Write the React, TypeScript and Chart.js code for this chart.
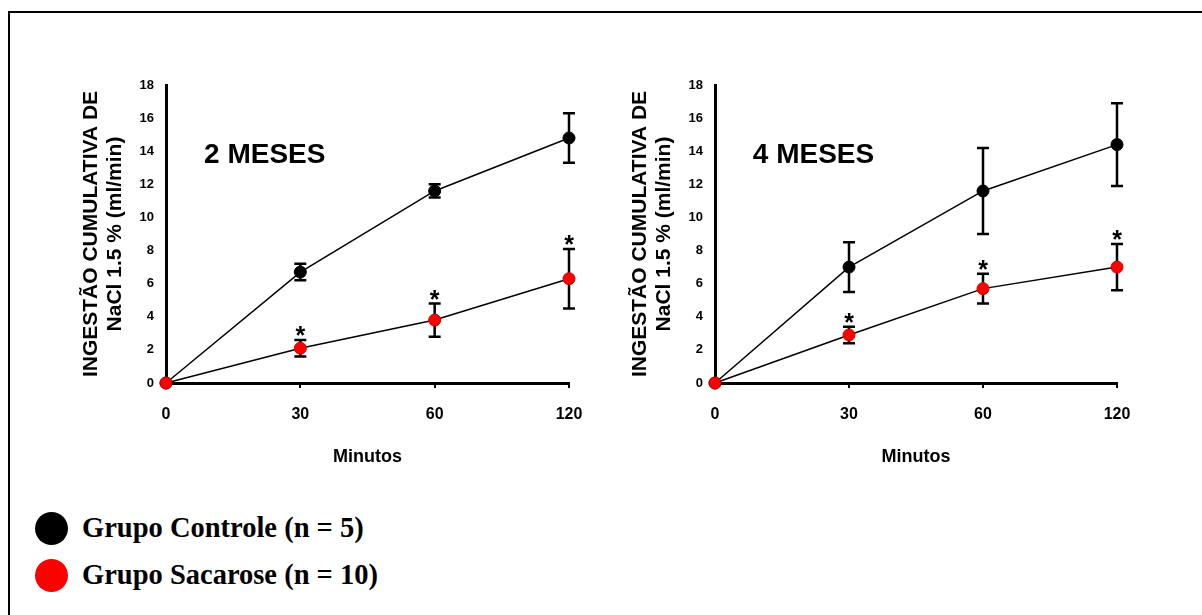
import React, { useEffect, useRef } from 'react';
import { Chart, registerables } from 'chart.js';

Chart.register(...registerables);

// ---- Data ----
const minutos = ['0', '30', '60', '120'];
const yMin = 0;
const yMax = 18;
const yStep = 2;

const controle2 = [0, 6.7, 11.6, 14.8];
const controle2Err = [0, 0.5, 0.4, 1.5];
const sacarose2 = [0, 2.1, 3.8, 6.3];
const sacarose2Err = [0, 0.5, 1.0, 1.8];
const sig2 = [false, true, true, true];

const controle4 = [0, 7.0, 11.6, 14.4];
const controle4Err = [0, 1.5, 2.6, 2.5];
const sacarose4 = [0, 2.9, 5.7, 7.0];
const sacarose4Err = [0, 0.5, 0.9, 1.4];
const sig4 = [false, true, true, true];

const panelTitles = ['2 MESES', '4 MESES'];
const seriesNames = ['Grupo Controle (n = 5)', 'Grupo Sacarose (n = 10)'];
const seriesColors = ['#000000', '#ff0000'];
const yTitle = ['INGESTÃO CUMULATIVA DE', 'NaCl 1.5 % (ml/min)'];
const xTitle = 'Minutos';

const SANS = "'Liberation Sans', Arial, sans-serif";
const SERIF = "'Liberation Serif', 'Times New Roman', serif";

type PanelProps = {
  left: number;
  top: number;
  padRight: number;
  title: string;
  ctrl: number[];
  ctrlErr: number[];
  sac: number[];
  sacErr: number[];
  sig: boolean[];
};

function Panel(props: PanelProps) {
  const ref = useRef<HTMLCanvasElement | null>(null);
  const W = 540;
  const H = 420;

  useEffect(() => {
    if (!ref.current) return;
    const { title, ctrl, ctrlErr, sac, sacErr, sig } = props;

    const errorBars = {
      id: 'errorBars',
      beforeDatasetsDraw(chart: any) {
        const { ctx, scales } = chart;
        const x = scales.x;
        const y = scales.y;
        chart.data.datasets.forEach((ds: any) => {
          const errs: number[] = ds.errors;
          if (!errs) return;
          ctx.save();
          ctx.strokeStyle = '#000';
          ctx.lineWidth = 2.5;
          ds.data.forEach((v: number, i: number) => {
            const e = errs[i];
            if (!e) return;
            const px = x.getPixelForValue(i);
            const t = y.getPixelForValue(v + e);
            const b = y.getPixelForValue(v - e);
            ctx.beginPath();
            ctx.moveTo(px, t);
            ctx.lineTo(px, b);
            ctx.moveTo(px - 6, t);
            ctx.lineTo(px + 6, t);
            ctx.moveTo(px - 6, b);
            ctx.lineTo(px + 6, b);
            ctx.stroke();
          });
          ctx.restore();
        });
      },
      afterDatasetsDraw(chart: any) {
        const { ctx, scales } = chart;
        const x = scales.x;
        const y = scales.y;
        chart.data.datasets.forEach((ds: any) => {
          const s: boolean[] = ds.sig;
          if (!s) return;
          ctx.save();
          ctx.fillStyle = '#000';
          ctx.font = `bold 25px ${SANS}`;
          ctx.textAlign = 'center';
          ctx.textBaseline = 'alphabetic';
          ds.data.forEach((v: number, i: number) => {
            if (!s[i]) return;
            const px = x.getPixelForValue(i);
            const t = y.getPixelForValue(v + (ds.errors ? ds.errors[i] : 0));
            ctx.fillText('*', px, t - 11 + 15);
          });
          ctx.restore();
        });
      },
      afterDraw(chart: any) {
        const { ctx, chartArea } = chart;
        ctx.save();
        ctx.fillStyle = '#000';
        ctx.font = `bold 28px ${SANS}`;
        ctx.textAlign = 'center';
        ctx.textBaseline = 'middle';
        ctx.fillText(
          title,
          chartArea.left + 0.245 * (chartArea.right - chartArea.left),
          chartArea.top + 70
        );
        ctx.restore();
      },
    };

    const chart = new Chart(ref.current, {
      type: 'line',
      data: {
        labels: minutos,
        datasets: [
          {
            label: seriesNames[0],
            data: ctrl,
            errors: ctrlErr,
            order: 1,
            borderColor: '#000',
            borderWidth: 1.5,
            pointBackgroundColor: seriesColors[0],
            pointBorderColor: seriesColors[0],
            pointBorderWidth: 1,
            pointRadius: 6,
            tension: 0,
            clip: false,
          } as any,
          {
            label: seriesNames[1],
            data: sac,
            errors: sacErr,
            sig: sig,
            order: 0,
            borderColor: '#000',
            borderWidth: 1.5,
            pointBackgroundColor: seriesColors[1],
            pointBorderColor: '#d00000',
            pointBorderWidth: 1,
            pointRadius: 6,
            tension: 0,
            clip: false,
          } as any,
        ],
      },
      options: {
        responsive: false,
        animation: false,
        devicePixelRatio: 1,
        layout: { padding: { left: 0, right: props.padRight, top: 25, bottom: 0 } },
        plugins: {
          legend: { display: false },
          tooltip: { enabled: false },
          title: { display: false },
        },
        scales: {
          x: {
            type: 'category',
            offset: false,
            grid: {
              display: true,
              drawOnChartArea: false,
              drawTicks: true,
              tickLength: 5,
              lineWidth: 2,
              color: (c: any) => (c.index === 0 ? 'rgba(0,0,0,0)' : '#000'),
            },
            border: { display: true, color: '#000', width: 3 },
            ticks: {
              color: '#000',
              padding: 17,
              maxRotation: 0,
              font: { family: SANS, size: 16, weight: 'bold' },
            },
            title: {
              display: true,
              text: xTitle,
              color: '#000',
              padding: { top: 0, bottom: 12 },
              font: { family: SANS, size: 18, weight: 'bold' },
            },
            afterFit: (s: any) => {
              s.height = 97;
            },
          },
          y: {
            type: 'linear',
            min: yMin,
            max: yMax,
            ticks: {
              stepSize: yStep,
              color: '#000',
              padding: 12,
              font: { family: SANS, size: 13, weight: 'bold' },
            },
            grid: { display: false, drawTicks: false },
            border: { display: true, color: '#000', width: 3 },
            title: {
              display: true,
              text: yTitle,
              color: '#000',
              padding: { top: 19, bottom: 0 },
              font: { family: SANS, size: 21, weight: 'bold', lineHeight: 1.15 },
            },
            afterFit: (s: any) => {
              s.width = 106;
            },
          },
        },
      } as any,
      plugins: [errorBars],
    });

    return () => {
      chart.destroy();
    };
  }, []);

  return (
    <canvas
      ref={ref}
      width={W}
      height={H}
      style={{ position: 'absolute', left: props.left, top: props.top, width: W, height: H }}
    />
  );
}

function LegendItem({ color, text, cy }: { color: string; text: string; cy: number }) {
  return (
    <>
      <div
        style={{
          position: 'absolute',
          left: 35,
          top: cy - 16,
          width: 33,
          height: 33,
          borderRadius: '50%',
          background: color,
        }}
      />
      <div
        style={{
          position: 'absolute',
          left: 82,
          top: cy - 18,
          height: 36,
          lineHeight: '36px',
          fontFamily: SERIF,
          fontWeight: 'bold',
          fontSize: 28.5,
          color: '#000',
          whiteSpace: 'nowrap',
        }}
      >
        {text}
      </div>
    </>
  );
}

export default function App() {
  return (
    <div
      style={{
        position: 'absolute',
        left: 0,
        top: 0,
        width: 1202,
        height: 615,
        background: '#fff',
        overflow: 'hidden',
      }}
    >
      <div
        style={{
          position: 'absolute',
          left: 8,
          top: 11,
          width: 1194,
          height: 604,
          borderTop: '2px solid #000',
          borderLeft: '2px solid #000',
          boxSizing: 'border-box',
        }}
      />
      <Panel
        left={60}
        top={60}
        padRight={31}
        title={panelTitles[0]}
        ctrl={controle2}
        ctrlErr={controle2Err}
        sac={sacarose2}
        sacErr={sacarose2Err}
        sig={sig2}
      />
      <Panel
        left={609}
        top={60}
        padRight={32}
        title={panelTitles[1]}
        ctrl={controle4}
        ctrlErr={controle4Err}
        sac={sacarose4}
        sacErr={sacarose4Err}
        sig={sig4}
      />
      <LegendItem color={seriesColors[0]} text={seriesNames[0]} cy={528} />
      <LegendItem color={seriesColors[1]} text={seriesNames[1]} cy={575} />
    </div>
  );
}
